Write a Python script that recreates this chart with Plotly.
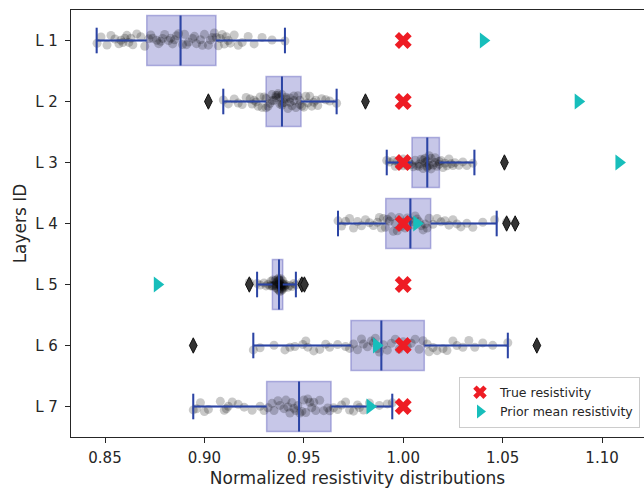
import plotly.graph_objects as go

layers = ["L 1", "L 2", "L 3", "L 4", "L 5", "L 6", "L 7"]
positions = [0, 1, 2, 3, 4, 5, 6]

# box statistics
q1 = [0.871, 0.931, 1.0044, 0.9912, 0.9342, 0.9737, 0.9313]
median = [0.888, 0.939, 1.0121, 1.0036, 0.9375, 0.989, 0.9476]
q3 = [0.9058, 0.9486, 1.0182, 1.0138, 0.9394, 1.0106, 0.9637]
lower_whisker = [0.8458, 0.9095, 0.9917, 0.9672, 0.9265, 0.9246, 0.8944]
upper_whisker = [0.9405, 0.9665, 1.0358, 1.047, 0.946, 1.0526, 0.9945]

outliers = [[], [0.902, 0.981], [1.0509], [1.052, 1.0563], [0.9226, 0.949, 0.9503], [0.8944, 1.0672], []]

true_resistivity = [1.0, 1.0, 1.0, 1.0, 1.0, 1.0, 1.0]
prior_mean = [1.0403, 1.088, 1.1085, 1.0068, 0.8763, 0.9866, 0.9833]

samples_l1 = [0.846, 0.848, 0.851, 0.853, 0.855, 0.857, 0.858, 0.859, 0.860, 0.861, 0.862, 0.863, 0.864, 0.866, 0.868, 0.870,
              0.872, 0.873, 0.874, 0.876, 0.877, 0.878, 0.879, 0.880, 0.882, 0.883, 0.884, 0.885, 0.886, 0.887,
              0.889, 0.890, 0.891, 0.892, 0.894, 0.895, 0.896, 0.898, 0.899, 0.900, 0.902, 0.903, 0.904, 0.905, 0.906,
              0.907, 0.908, 0.909, 0.910, 0.911, 0.912, 0.913, 0.915, 0.917, 0.919, 0.922, 0.925, 0.929, 0.934, 0.9405]
samples_l2 = [0.9095, 0.912, 0.915, 0.917, 0.919, 0.921, 0.923, 0.924, 0.925, 0.926, 0.927, 0.928, 0.929, 0.930, 0.931,
              0.931, 0.932, 0.933, 0.934, 0.934, 0.935, 0.936, 0.936, 0.937, 0.937, 0.938, 0.938, 0.939, 0.939,
              0.939, 0.940, 0.941, 0.941, 0.942, 0.943, 0.943, 0.944, 0.945, 0.945, 0.946, 0.947, 0.948, 0.948,
              0.949, 0.950, 0.951, 0.952, 0.953, 0.954, 0.955, 0.956, 0.957, 0.959, 0.961, 0.963, 0.9665]
samples_l3 = [0.9917, 0.993, 0.995, 0.996, 0.997, 0.998, 0.999, 1.000, 1.000, 1.001, 1.002, 1.003, 1.004,
              1.005, 1.006, 1.007, 1.008, 1.008, 1.009, 1.010, 1.010, 1.011, 1.011, 1.012, 1.012,
              1.012, 1.013, 1.013, 1.014, 1.014, 1.015, 1.016, 1.016, 1.017, 1.018, 1.018,
              1.019, 1.020, 1.021, 1.022, 1.023, 1.024, 1.025, 1.026, 1.028, 1.030, 1.032, 1.035]
samples_l4 = [0.9672, 0.969, 0.971, 0.973, 0.975, 0.977, 0.979, 0.981, 0.983, 0.985, 0.987, 0.988, 0.989, 0.990, 0.991,
              0.992, 0.993, 0.994, 0.995, 0.996, 0.997, 0.998, 0.999, 1.000, 1.001, 1.002, 1.003,
              1.004, 1.005, 1.006, 1.007, 1.008, 1.009, 1.010, 1.011, 1.012, 1.013,
              1.015, 1.017, 1.019, 1.021, 1.023, 1.025, 1.027, 1.029, 1.032, 1.035, 1.040, 1.046, 1.052, 1.0563]
samples_l5 = [0.9226, 0.9265, 0.928, 0.930, 0.931, 0.932, 0.933, 0.9335, 0.934, 0.9342, 0.9345, 0.935, 0.9355, 0.9358,
              0.936, 0.9362, 0.9365, 0.9368, 0.937, 0.9372, 0.9373, 0.9375, 0.9375, 0.9377, 0.9378, 0.938, 0.9382,
              0.9383, 0.9385, 0.9387, 0.9388, 0.939, 0.9391, 0.9392, 0.9394, 0.9396, 0.9398, 0.940, 0.9402, 0.9405,
              0.941, 0.942, 0.943, 0.944, 0.945, 0.946, 0.949, 0.9503]
samples_l6 = [0.9246, 0.928, 0.935, 0.9405, 0.943, 0.9455, 0.9495, 0.951, 0.952, 0.955, 0.958, 0.961, 0.963, 0.967, 0.971, 0.973,
              0.975, 0.977, 0.979, 0.980, 0.982, 0.984, 0.985, 0.986, 0.987, 0.988,
              0.990, 0.992, 0.994, 0.996, 0.998, 1.000, 1.002, 1.004, 1.006, 1.008, 1.010,
              1.012, 1.013, 1.015, 1.017, 1.020, 1.022, 1.025, 1.027, 1.030, 1.033, 1.036, 1.040, 1.045, 1.0526]
samples_l7 = [0.8944, 0.896, 0.898, 0.900, 0.902, 0.908, 0.910, 0.911, 0.912, 0.914, 0.917, 0.920, 0.924, 0.928, 0.930,
              0.932, 0.934, 0.935, 0.937, 0.938, 0.940, 0.941, 0.942, 0.943, 0.944, 0.945, 0.946, 0.947,
              0.948, 0.949, 0.950, 0.951, 0.952, 0.953, 0.954, 0.955, 0.956, 0.958, 0.960, 0.962, 0.963,
              0.965, 0.967, 0.969, 0.971, 0.973, 0.975, 0.977, 0.978, 0.980, 0.983, 0.988, 0.992, 0.9945]
samples = [samples_l1, samples_l2, samples_l3, samples_l4, samples_l5, samples_l6, samples_l7]

DARK = "#2b44a4"
FONT = "DejaVu Sans"
BOX_W = 0.82

fig = go.Figure()

# box bodies
fig.add_trace(go.Box(
    y=positions, q1=q1, median=median, q3=q3,
    lowerfence=lower_whisker, upperfence=upper_whisker,
    orientation="h", width=BOX_W, boxpoints=False,
    fillcolor="rgba(70,70,180,0.30)",
    line=dict(color="rgba(70,70,180,0.38)", width=1.5),
    showlegend=False, hoverinfo="skip",
))

# jittered sample points (Plotly's own jitter)
px, py = [], []
for pos, s in zip(positions, samples):
    px.extend(s)
    py.extend([pos] * len(s))
fig.add_trace(go.Box(
    x=px, y=py, orientation="h", width=BOX_W,
    boxpoints="all", jitter=0.32, pointpos=0,
    fillcolor="rgba(0,0,0,0)", line=dict(width=0, color="rgba(0,0,0,0)"),
    marker=dict(color="rgba(0,0,0,0.21)", size=9, line=dict(width=0)),
    showlegend=False, hoverinfo="skip",
))

# whiskers, caps and medians
lx, ly = [], []
cap = 0.21
for pos, a, b, c, d, m in zip(positions, lower_whisker, q1, q3, upper_whisker, median):
    lx += [a, b, None, c, d, None, a, a, None, d, d, None, m, m, None]
    ly += [pos, pos, None, pos, pos, None, pos - cap, pos + cap, None,
           pos - cap, pos + cap, None, pos - BOX_W / 2, pos + BOX_W / 2, None]
fig.add_trace(go.Scatter(x=lx, y=ly, mode="lines", line=dict(color=DARK, width=2),
                         showlegend=False, hoverinfo="skip"))

# outliers
ox, oy = [], []
for pos, o in zip(positions, outliers):
    ox += o
    oy += [pos] * len(o)
fig.add_trace(go.Scatter(x=ox, y=oy, mode="markers",
                         marker=dict(symbol="diamond-tall", size=11, color="#333333",
                                     line=dict(color="#111111", width=1)),
                         showlegend=False, hoverinfo="skip"))

fig.add_trace(go.Scatter(x=true_resistivity, y=positions, mode="markers", name="True resistivity",
                         marker=dict(symbol="x", size=15, color="#ee1c24", line=dict(width=0))))
fig.add_trace(go.Scatter(x=prior_mean, y=positions, mode="markers", name="Prior mean resistivity",
                         marker=dict(symbol="triangle-right", size=14, color="#17bebb", line=dict(width=0))))

fig.update_layout(
    width=644, height=489,
    margin=dict(l=71, r=0, t=10, b=52),
    paper_bgcolor="white", plot_bgcolor="white",
    font=dict(family=FONT, size=15, color="#262626"),
    boxmode="overlay",
    legend=dict(x=0.993, y=0.022, xanchor="right", yanchor="bottom",
                bgcolor="rgba(255,255,255,0.85)", bordercolor="#cccccc", borderwidth=1,
                font=dict(size=12.5), itemsizing="constant", tracegroupgap=0),
)
fig.update_xaxes(
    range=[0.8329, 1.1211], tick0=0.85, dtick=0.05, tickformat=".2f",
    showgrid=False, zeroline=False, showline=True, mirror=True,
    linecolor="#262626", linewidth=1.2, ticks="outside", ticklen=5, tickcolor="#262626",
    ticklabelstandoff=2,
    title=dict(text="Normalized resistivity distributions", font=dict(size=17), standoff=6),
)
fig.update_yaxes(
    range=[6.5, -0.5], tickvals=positions, ticktext=layers,
    showgrid=False, zeroline=False, showline=True, mirror=False,
    linecolor="#262626", linewidth=1.2, ticks="outside", ticklen=5, tickcolor="#262626",
    ticklabelstandoff=4,
    title=dict(text="Layers ID", font=dict(size=17), standoff=4),
)

fig.write_html("out.html")
